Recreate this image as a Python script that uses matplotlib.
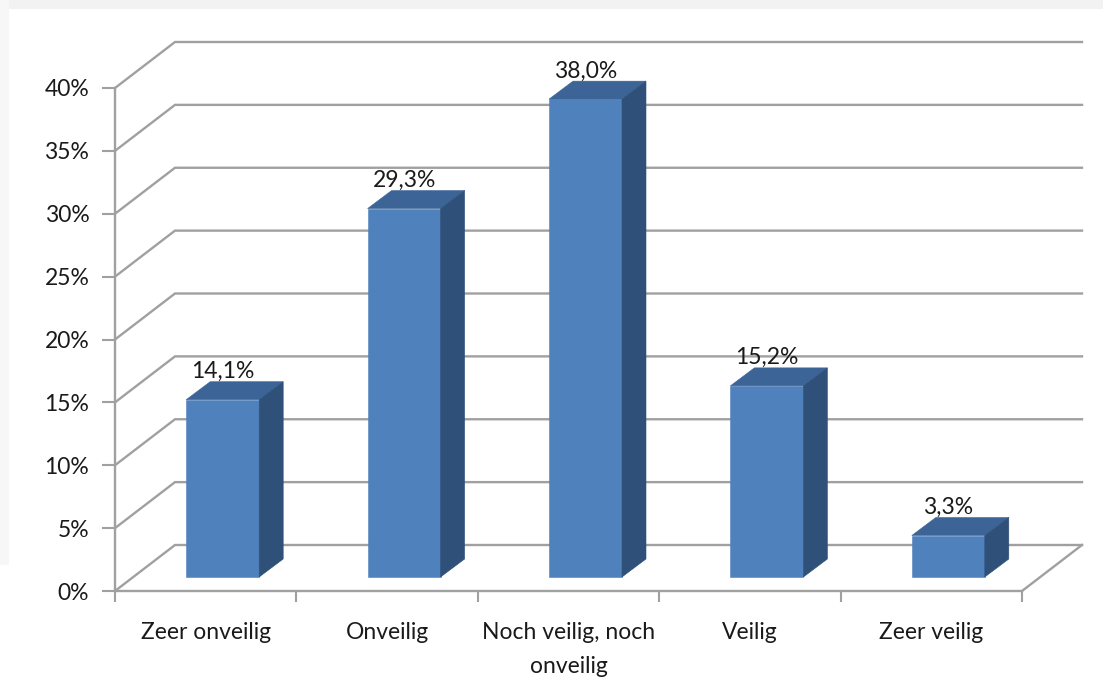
#!/usr/bin/env python3
"""3D-look column chart (Excel style), drawn on a normal 2D axes with sheared depth."""

import numpy as np
import matplotlib
matplotlib.use('Agg')
import matplotlib.pyplot as plt
from matplotlib.patches import Polygon, Rectangle
from matplotlib.ticker import FuncFormatter

categories = ['Zeer onveilig', 'Onveilig', 'Noch veilig, noch\nonveilig', 'Veilig', 'Zeer veilig']
values = [14.1, 29.3, 38.0, 15.2, 3.3]
y_ticks = [0, 5, 10, 15, 20, 25, 30, 35, 40]

W, H = 1103, 692
GRID = '#a0a0a0'
FRONT = '#4f81bd'
TOP = '#3c6496'
SIDE = '#2f5078'
TXT = '#1a1a1a'
FS = 16.5

plt.rcParams['font.family'] = ['Lato', 'DejaVu Sans']

fig = plt.figure(figsize=(W / 100, H / 100), dpi=100)
ax = fig.add_axes([115 / W, (H - 591) / H, 907 / W, 503 / H])
ax.set_xlim(0, 5)
ax.set_ylim(0, 40)
ax.patch.set_visible(False)

# pixel sizes converted to data units
px_x = 5 / 907
px_y = 40 / 503
depth_x, depth_y = 60 * px_x, 46 * px_y         # full floor depth
bar_dx, bar_dy = 24 * px_x, 18 * px_y           # bar depth
off_x, off_y = 17 * px_x, 14 * px_y             # gap front edge -> bar
bar_w = 73 * px_x

# slide background strips
fig.add_artist(Rectangle((0, 1 - 9 / H), 1, 9 / H, transform=fig.transFigure,
                         facecolor='#f2f2f2', edgecolor='none', zorder=-5))
fig.add_artist(Rectangle((0, 1 - 565 / H), 9 / W, 565 / H, transform=fig.transFigure,
                         facecolor='#f7f7f7', edgecolor='none', zorder=-5))

# gridlines: diagonal on the side wall, then along the back wall
for t in y_ticks:
    ax.plot([0, depth_x, 5 + depth_x], [t, t + depth_y, t + depth_y], color=GRID, lw=1.7,
            clip_on=False, zorder=1, solid_joinstyle='miter')
ax.plot([5, 5 + depth_x], [0, depth_y], color=GRID, lw=1.7, clip_on=False, zorder=1)

# bars
xs = np.arange(5) + 0.5 + off_x
ax.bar(xs, values, width=bar_w, bottom=off_y, color=FRONT, edgecolor=FRONT, linewidth=0.4,
       zorder=3, clip_on=False)
for x, v in zip(xs, values):
    l, r = x - bar_w / 2, x + bar_w / 2
    t = off_y + v
    ax.add_patch(Polygon([(l, t), (r, t), (r + bar_dx, t + bar_dy), (l + bar_dx, t + bar_dy)],
                         facecolor=TOP, edgecolor=TOP, linewidth=0.4, zorder=3, clip_on=False))
    ax.add_patch(Polygon([(r, off_y), (r + bar_dx, off_y + bar_dy), (r + bar_dx, t + bar_dy), (r, t)],
                         facecolor=SIDE, edgecolor=SIDE, linewidth=0.4, zorder=3.1, clip_on=False))
    ax.text(x, t + 2.25, f'{v:.1f}%'.replace('.', ','), ha='center', va='center',
            fontsize=FS, color=TXT, zorder=4, clip_on=False)

# axes
for s in ['top', 'right']:
    ax.spines[s].set_visible(False)
for s in ['left', 'bottom']:
    ax.spines[s].set_color(GRID)
    ax.spines[s].set_linewidth(1.7)

ax.set_yticks(y_ticks)
ax.yaxis.set_major_formatter(FuncFormatter(lambda v, _: f'{v:.0f}%'))
ax.tick_params(axis='y', length=9.5, width=1.5, color=GRID, pad=9, labelsize=FS, labelcolor=TXT)
ax.set_xticks(np.arange(6))
ax.set_xticklabels([])
ax.set_xticks(np.arange(5) + 0.5, minor=True)
ax.set_xticklabels(categories, minor=True, fontsize=FS, color=TXT, linespacing=1.8)
ax.tick_params(axis='x', which='major', length=8, width=1.5, color=GRID)
ax.tick_params(axis='x', which='minor', length=0, pad=22)

fig.savefig('out.png', dpi=100)
